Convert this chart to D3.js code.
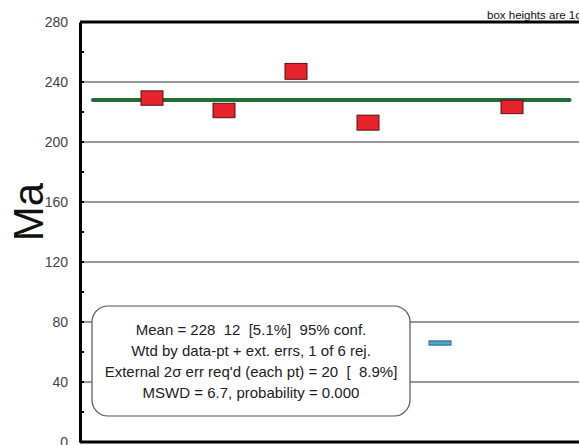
<!DOCTYPE html>
<html><head><meta charset="utf-8">
<script src="https://cdn.jsdelivr.net/npm/d3@7"></script>
<style>body{margin:0;background:#fff}svg{display:block}text{white-space:pre}</style>
</head><body>
<script>
const ages = [229.3, 221.0, 247.1, 212.9, 66.0, 223.4];
const sigmas = [4.8, 4.8, 5.3, 5.0, 1.4, 4.5];
const rejected = [false, false, false, false, true, false];
const yTicks = [0, 40, 80, 120, 160, 200, 240, 280];
const minorTicks = [20, 60, 100, 140, 180, 220, 260];
const meanAge = 228;
const legendLines = [
  "Mean = 228  12  [5.1%]  95% conf.",
  "Wtd by data-pt + ext. errs, 1 of 6 rej.",
  "External 2\u03c3 err req'd (each pt) = 20  [  8.9%]",
  "MSWD = 6.7, probability = 0.000"
];

const W = 579, H = 445;
const svg = d3.select("body").append("svg").attr("width", W).attr("height", H);
const y = d3.scaleLinear().domain([0, 280]).range([442, 22]);
const x = d3.scaleLinear().domain([0, 7]).range([80, 584]);
const font = "Liberation Sans, Arial, sans-serif";

// gridlines
svg.append("g").selectAll("line").data(yTicks.filter(d => d > 0 && d < 280)).join("line")
  .attr("x1", 80).attr("x2", W).attr("y1", d => y(d)).attr("y2", d => y(d))
  .attr("stroke", "#9a9a9a").attr("stroke-width", 2);

// top line
svg.append("line").attr("x1", 80).attr("x2", W).attr("y1", y(280)).attr("y2", y(280))
  .attr("stroke", "#000").attr("stroke-width", 3);
// bottom line
svg.append("line").attr("x1", 80).attr("x2", W).attr("y1", y(0)).attr("y2", y(0))
  .attr("stroke", "#000").attr("stroke-width", 3);

// left axis
const axis = d3.axisLeft(y).tickValues(yTicks).tickSize(0).tickPadding(12);
const ag = svg.append("g").attr("transform", "translate(80,0)").call(axis);
ag.select(".domain").attr("stroke", "#000").attr("stroke-width", 3);
ag.selectAll("text").attr("font-family", font).attr("font-size", 14).attr("fill", "#444");
// ticks
svg.append("g").selectAll("line").data(minorTicks.concat(yTicks.filter(d => d > 0 && d < 280))).join("line")
  .attr("x1", 80).attr("x2", 84).attr("y1", d => y(d)).attr("y2", d => y(d))
  .attr("stroke", "#000").attr("stroke-width", 2);

// y label
svg.append("text").attr("transform", `translate(43,212) rotate(-90)`)
  .attr("text-anchor", "middle").attr("font-family", font).attr("font-size", 42)
  .attr("fill", "#111").text("Ma");

// top-right note
svg.append("text").attr("x", 487).attr("y", 19).attr("font-family", font)
  .attr("font-size", 11.5).attr("fill", "#111").text("box heights are 1\u03c3");

// mean line
svg.append("line").attr("x1", x(0.18)).attr("x2", x(6.8))
  .attr("y1", y(meanAge)).attr("y2", y(meanAge))
  .attr("stroke", "#1f6e35").attr("stroke-width", 4).attr("stroke-linecap", "round");

// boxes
svg.append("g").selectAll("rect").data(ages).join("rect")
  .attr("x", (d, i) => x(i + 1) - 11)
  .attr("width", 22)
  .attr("y", (d, i) => y(d + sigmas[i]))
  .attr("height", (d, i) => y(d - sigmas[i]) - y(d + sigmas[i]))
  .attr("fill", (d, i) => rejected[i] ? "#4aa8d0" : "#e8232b")
  .attr("stroke", (d, i) => rejected[i] ? "#2a5f78" : "#5a1010")
  .attr("stroke-width", 1);

// legend box
svg.append("rect").attr("x", 92).attr("y", 306).attr("width", 318).attr("height", 110)
  .attr("rx", 16).attr("ry", 16).attr("fill", "#fff").attr("stroke", "#555").attr("stroke-width", 1.2);
svg.append("g").selectAll("text").data(legendLines).join("text")
  .attr("x", 251).attr("y", (d, i) => 335 + i * 21)
  .attr("text-anchor", "middle").attr("font-family", font).attr("font-size", 15)
  .attr("fill", "#222").text(d => d);
</script>
</body></html>
